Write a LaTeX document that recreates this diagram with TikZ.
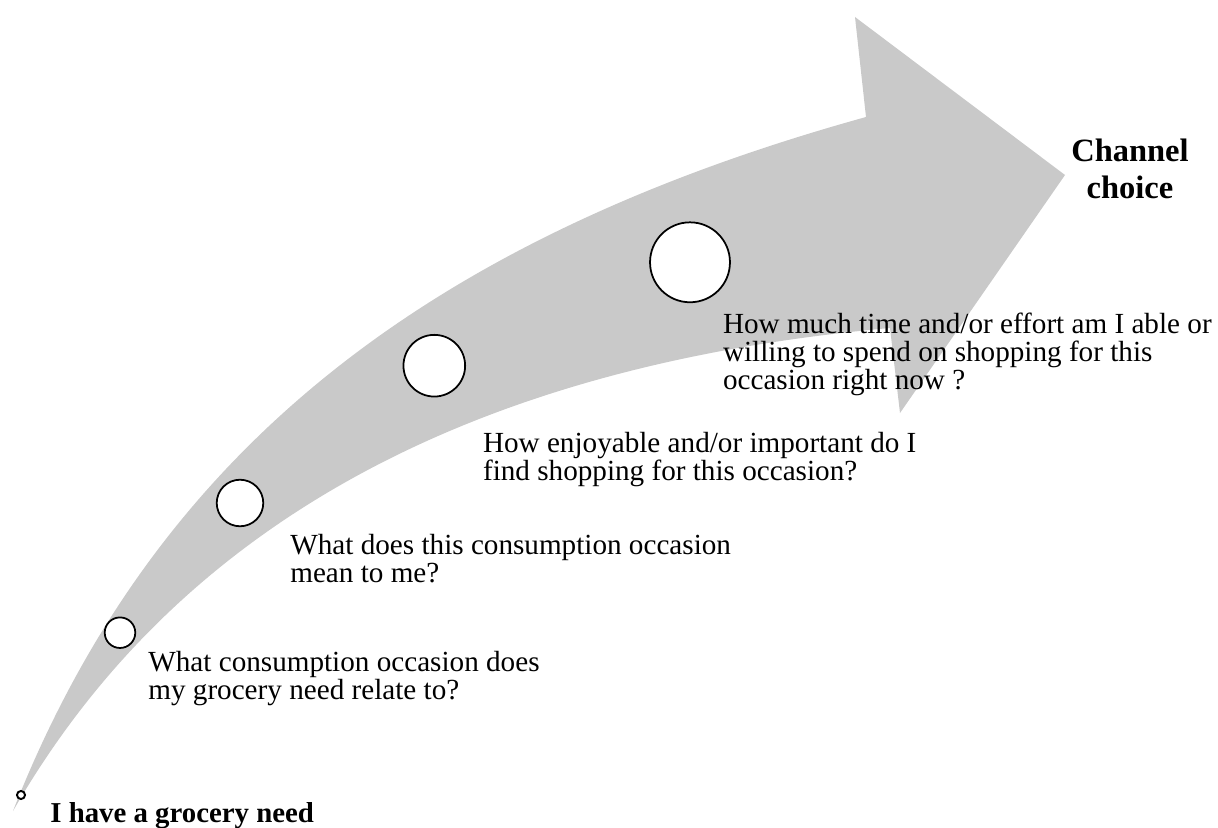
\documentclass[tikz,border=0pt]{standalone}
\usepackage{fontspec}
\setmainfont{Liberation Serif}
\definecolor{arrowgray}{RGB}{201,201,201}
\begin{document}
\begin{tikzpicture}[x=0.02cm,y=-0.02cm,
  stage/.style={circle,draw=black,fill=white,line width=1pt,inner sep=0pt},
  question/.style={anchor=base west,inner sep=0pt,align=left,font=\fontsize{16.6pt}{15.9pt}\selectfont},
  endlabel/.style={inner sep=0pt,align=center,font=\fontsize{18.5pt}{20.5pt}\selectfont\bfseries}]
\useasboundingbox (0,0) rectangle (1218,828);
% curved arrow
\fill[arrowgray] (13,811) .. controls (155,450) and (428.8,238.3) .. (866,117)
  -- (855,17) -- (1065,175) -- (900,413) -- (890,328)
  .. controls (465,366.3) and (175.5,528.5) .. (13,811) -- cycle;
% stages
\node[stage,minimum size=4.6pt,line width=1.1pt] (c0) at (21,795) {};
\node[stage,minimum size=17.4pt] (c1) at (120,632.7) {};
\node[stage,minimum size=26.5pt] (c2) at (240,503) {};
\node[stage,minimum size=35.1pt] (c3) at (434.3,365.7) {};
\node[stage,minimum size=45.5pt] (c4) at (690,262.3) {};
% texts (anchored at the baseline of the last line)
\node[question,font=\fontsize{16.4pt}{16pt}\selectfont\bfseries] (t0) at (50,822.7) {I have a grocery need};
\node[question] (t1) at (148,699) {What consumption occasion does\\my grocery need relate to?};
\node[question] (t2) at (290,582) {What does this consumption occasion\\mean to me?};
\node[question] (t3) at (482.7,480) {How enjoyable and/or important do I\\find shopping for this occasion?};
\node[question] (t4) at (722.7,389) {How much time and/or effort am I able or\\willing to spend on shopping for this\\occasion right now ?};
\node[endlabel,anchor=base] (t5) at (1130,198) {Channel\\choice};
\end{tikzpicture}
\end{document}
